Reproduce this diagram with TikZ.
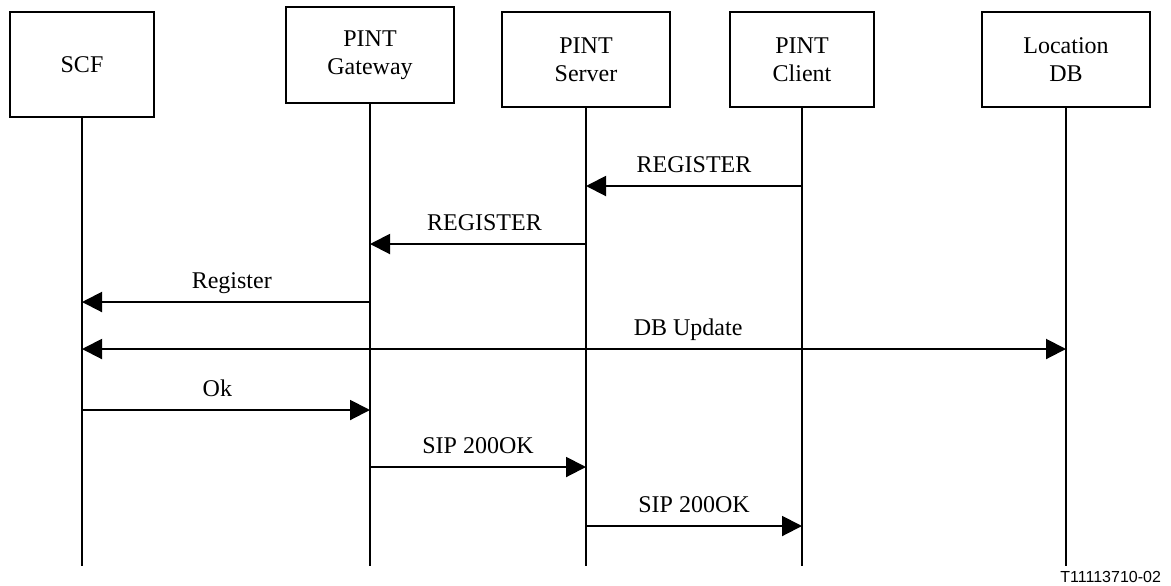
\documentclass[tikz,border=0pt]{standalone}
\usepackage{fontspec}
\setmainfont{Liberation Serif}
\setsansfont{Liberation Sans}
\usetikzlibrary{arrows.meta}

\tikzset{
  entity/.style={draw, line width=0.6pt, align=center, inner sep=0pt,
    font=\fontsize{12}{14}\selectfont},
  lifeline/.style={line width=1pt},
  msg/.style={line width=1pt, >={Triangle[length=10pt,width=10pt]}},
  msglbl/.style={font=\fontsize{12}{14}\selectfont, anchor=base, yshift=7pt},
}

\begin{document}
\begin{tikzpicture}[x=0.5pt,y=-0.5pt]
    \useasboundingbox (0,0) rectangle (1171,585);
    \node[entity, minimum width=72pt, minimum height=52.5pt] (scf) at (82,64.5) {SCF};
    \node[entity, minimum width=84pt, minimum height=48pt] (gw) at (370,55) {PINT\\Gateway};
    \node[entity, minimum width=84pt, minimum height=47.5pt] (srv) at (586,59.5) {PINT\\Server};
    \node[entity, minimum width=72pt, minimum height=47.5pt] (cli) at (802,59.5) {PINT\\Client};
    \node[entity, minimum width=84pt, minimum height=47.5pt] (ldb) at (1066,59.5) {Location\\DB};
    \coordinate (bot) at (0,566);
    \foreach \n in {scf,gw,srv,cli,ldb}
        \draw[lifeline] (\n.south) -- (\n |- bot);
    % message rows
    \coordinate (m1) at (0,186);
    \coordinate (m2) at (0,244);
    \coordinate (m3) at (0,302);
    \coordinate (m4) at (0,349);
    \coordinate (m5) at (0,410);
    \coordinate (m6) at (0,467);
    \coordinate (m7) at (0,526);
    \draw[msg,->] (cli |- m1) -- node[msglbl] {REGISTER} (srv |- m1);
    \draw[msg,->] (srv |- m2) -- node[msglbl, pos=0.47] {REGISTER} (gw |- m2);
    \draw[msg,->] (gw |- m3) -- node[msglbl, pos=0.48] {Register} (scf |- m3);
    \draw[msg,<->] (scf |- m4) -- node[msglbl, pos=0.616] {DB Update} (ldb |- m4);
    \draw[msg,->] (scf |- m5) -- node[msglbl, pos=0.47] {Ok} (gw |- m5);
    \draw[msg,->] (gw |- m6) -- node[msglbl] {SIP 200OK} (srv |- m6);
    \draw[msg,->] (srv |- m7) -- node[msglbl] {SIP 200OK} (cli |- m7);
    \node[font=\sffamily\fontsize{8}{9}\selectfont, anchor=base east] (fig) at (1168,582) {T11113710-02};
\end{tikzpicture}
\end{document}
